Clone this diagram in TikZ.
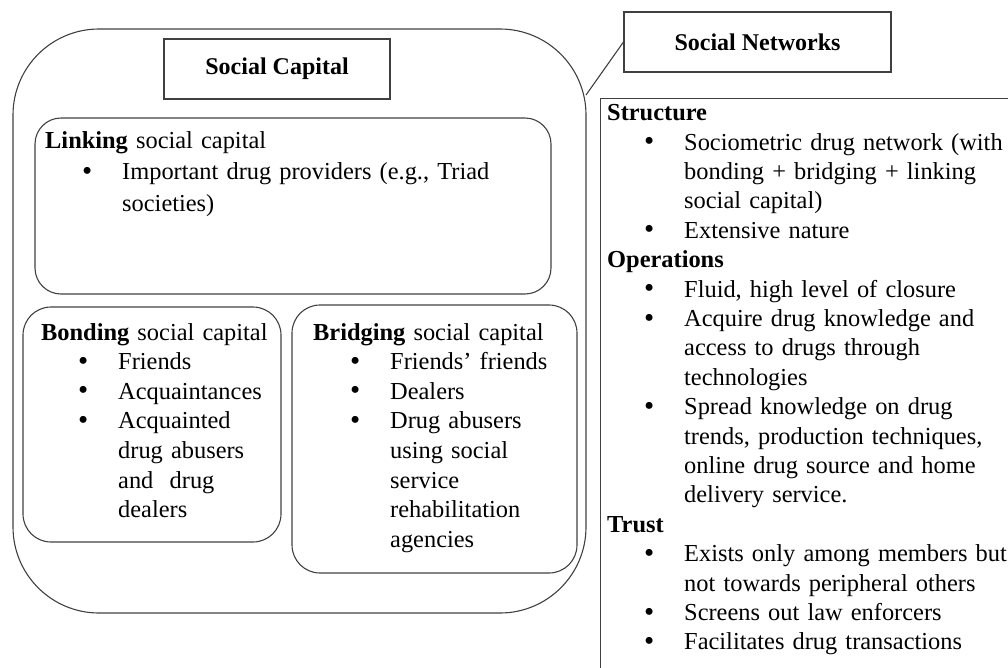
\documentclass[tikz,border=0pt]{standalone}
\usepackage{fontspec}
\setmainfont{Liberation Serif}

\newcommand{\dotmark}{\raisebox{-0.5pt}{\fontsize{29}{29}\selectfont\textbullet}}
\newenvironment{dotlist}{\begin{list}{\dotmark}{%
  \setlength\leftmargin{77pt}\setlength\labelwidth{20pt}\setlength\labelsep{30pt}%
  \setlength\topsep{0pt}\setlength\partopsep{0pt}\setlength\itemsep{0pt}\setlength\parsep{0pt}}}%
  {\end{list}}

\tikzset{
  frame/.style={draw=black!75, line width=1.1pt},
  titlebox/.style={frame, font=\bfseries\fontsize{24}{28}\selectfont, inner sep=0pt},
  roundbox/.style={frame, inner sep=0pt},
  txt/.style={anchor=base west, inner sep=0pt, align=left, font=\fontsize{24.4}{#1}\selectfont},
}

\begin{document}
\begin{tikzpicture}[x=1pt, y=-1pt]
    \clip (0,0) rectangle (1008,667);

    \node[roundbox, rounded corners=86pt, minimum width=573pt, minimum height=584pt] (capital) at (299.5,321) {};
    \node[titlebox, minimum width=226pt, minimum height=60pt] (sc) at (277,69) {Social Capital};

    \node[roundbox, rounded corners=26pt, minimum width=516pt, minimum height=176pt] (linking) at (293,206) {};
    \node[roundbox, rounded corners=28pt, minimum width=258pt, minimum height=235pt] (bonding) at (152,424.5) {};
    \node[roundbox, rounded corners=28pt, minimum width=285pt, minimum height=268pt] (bridging) at (434.5,439) {};

    \node[txt=31.5, text width=500pt] (linkingtext) at (45,148.3) {%
        \textbf{Linking} social capital
        \begin{dotlist}
        \item Important drug providers (e.g., Triad\\ societies)
        \end{dotlist}};
    \node[txt=29.6, text width=235pt] (bondingtext) at (41,340) {%
        \textbf{Bonding} social capital
        \begin{dotlist}
        \item Friends
        \item Acquaintances
        \item Acquainted\\ drug abusers\\ and\ \ drug\\ dealers
        \end{dotlist}};
    \node[txt=29.6, text width=260pt] (bridgingtext) at (313,340) {%
        \textbf{Bridging} social capital
        \begin{dotlist}
        \item Friends’ friends
        \item Dealers
        \item Drug abusers\\ using social\\ service\\ rehabilitation\\ agencies
        \end{dotlist}};

    \node[titlebox, minimum width=267pt, minimum height=60pt] (sn) at (757.5,42) {Social Networks};
    \node[frame, anchor=north west, minimum width=430pt, minimum height=600pt] (networks) at (600,98) {};
    \node[txt=29.4, text width=400pt] (networkstext) at (607,120.7) {%
        \textbf{Structure}
        \begin{dotlist}
        \item Sociometric drug network (with\\ bonding + bridging + linking\\ social capital)
        \item Extensive nature
        \end{dotlist}
        \textbf{Operations}
        \begin{dotlist}
        \item Fluid, high level of closure
        \item Acquire drug knowledge and\\ access to drugs through\\ technologies
        \item Spread knowledge on drug\\ trends, production techniques,\\ online drug source and home\\ delivery service.
        \end{dotlist}
        \textbf{Trust}
        \begin{dotlist}
        \item Exists only among members but\\ not towards peripheral others
        \item Screens out law enforcers
        \item Facilitates drug transactions
        \end{dotlist}};

    \coordinate (join) at (586,95);
    \draw[frame] (sn.west) -- (join);
\end{tikzpicture}
\end{document}
